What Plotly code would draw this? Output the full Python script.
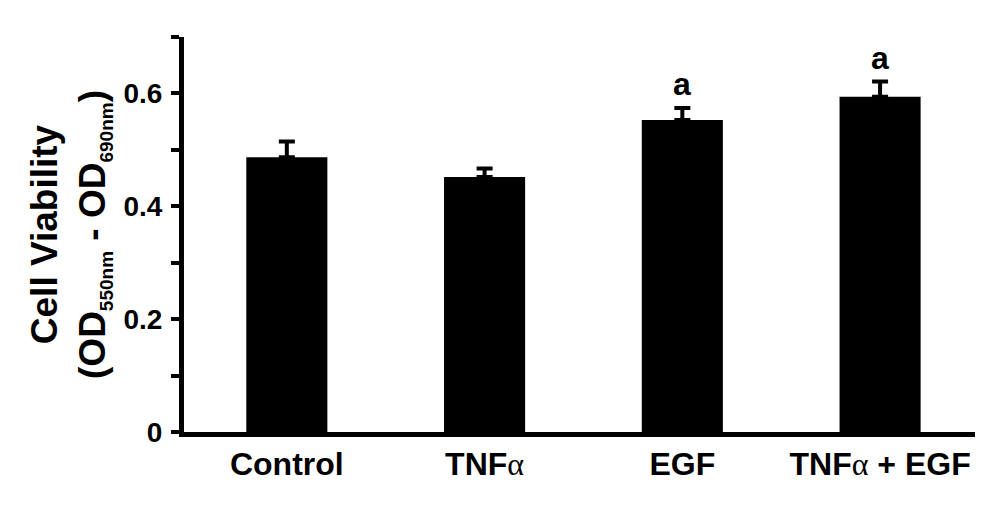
import plotly.graph_objects as go

ALPHA = '<span style="font-family:Liberation Serif, Times New Roman, serif; font-weight:normal">α</span>'
categories = ["<b>Control</b>", "<b>TNF</b>" + ALPHA, "<b>EGF</b>", "<b>TNF</b>" + ALPHA + "<b> + EGF</b>"]
means = [0.487, 0.452, 0.553, 0.594]
errors = [0.028, 0.015, 0.021, 0.027]
sig_labels = ["", "", "a", "a"]
ytick_vals = [0, 0.2, 0.4, 0.6]
ytick_text = ["<b>0</b>", "<b>0.2</b>", "<b>0.4</b>", "<b>0.6</b>"]

FONT = "Liberation Sans, Arial, Helvetica, sans-serif"
xpos = list(range(len(categories)))

fig = go.Figure()
fig.add_trace(go.Bar(
    x=xpos, y=means, width=0.41,
    marker=dict(color="black", line=dict(width=0)),
    error_y=dict(type="data", array=errors, arrayminus=[0]*len(errors), symmetric=False,
                 color="black", thickness=4, width=8),
    showlegend=False,
))

for i, lab in enumerate(sig_labels):
    if lab:
        fig.add_annotation(x=xpos[i], y=means[i] + errors[i], text=f"<b>{lab}</b>",
                           showarrow=False, yanchor="bottom", yshift=4,
                           font=dict(family=FONT, size=32, color="black"))

# page body adds an 8px offset; compensate with figure size/margins
fig.update_layout(
    width=996, height=497,
    margin=dict(l=176, r=29, t=29, b=73),
    paper_bgcolor="white", plot_bgcolor="white",
    font=dict(family=FONT, color="black"),
)
fig.update_xaxes(
    range=[-0.52, 3.48], tickvals=xpos, ticktext=categories,
    showline=True, linecolor="black", linewidth=5, ticks="", showgrid=False,
    zeroline=False, tickfont=dict(family=FONT, size=32, color="black"),
)
sub = '<span style="font-size:19px">{}</span>'
fig.update_yaxes(
    range=[0, 0.7], tickvals=ytick_vals, ticktext=ytick_text,
    showline=True, linecolor="black", linewidth=5, ticks="outside", ticklen=8,
    tickwidth=4, tickcolor="black", showgrid=False, zeroline=False,
    minor=dict(tickvals=[0.1, 0.3, 0.5, 0.7], ticks="outside", ticklen=8,
               tickwidth=4, tickcolor="black", showgrid=False),
    tickfont=dict(family=FONT, size=28, color="black"), ticklabelstandoff=3,
    title=dict(text="<b>Cell Viability</b><br><b>(OD<sub>" + sub.format("550nm") +
                    "</sub> - OD<sub>" + sub.format("690nm") + "</sub>)</b>",
               font=dict(family=FONT, size=37, color="black"), standoff=8),
)

fig.write_html("out.html")
